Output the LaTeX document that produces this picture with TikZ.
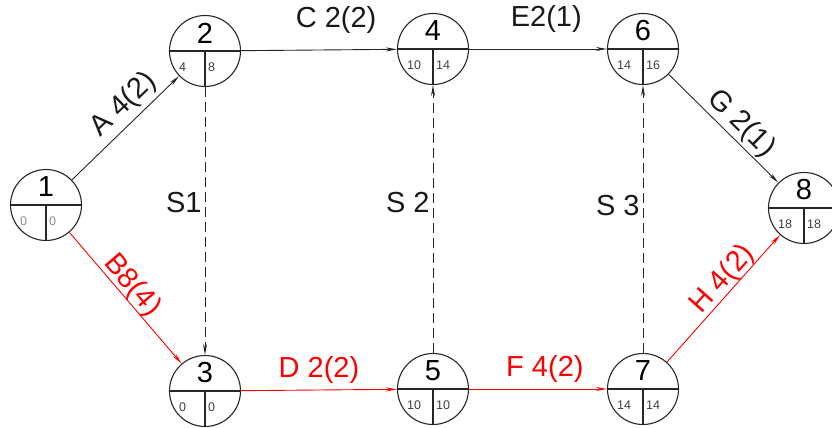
\documentclass[tikz,border=0pt]{standalone}
\usepackage{fontspec}
\setmainfont{Liberation Sans}
\usetikzlibrary{arrows.meta}
\begin{document}
\begin{tikzpicture}[x=1pt,y=1pt,
  ev/.style={circle, draw=black!85, line width=1.1pt, minimum size=71pt, inner sep=0pt},
  num/.style={font=\fontsize{29}{29}\selectfont, inner sep=0pt},
  sm/.style={font=\fontsize{12.5}{12.5}\selectfont, anchor=west, inner sep=0pt, text=black!75},
  act/.style={line width=0.9pt, draw=black!85, -{Stealth[length=11pt,width=4pt]}},
  crit/.style={act, draw=red},
  dum/.style={act, dash pattern=on 10pt off 5pt},
  lab/.style={font=\fontsize{29}{29}\selectfont, inner sep=2pt, text=black!90},
  rlab/.style={lab, text=red}]
\useasboundingbox (0,0) rectangle (832,428);
\newcommand\evnode[6][black!75]{%
  \node[ev] (#2) at (#3) {};
  \draw[line width=1.1pt, black!85] (#2.west) -- (#2.east) (#2.center) -- (#2.south);
  \node[num] (#2n) at ([yshift=18pt]#2.center) {#4};
  \node[sm, text=#1] (#2a) at ([xshift=-26pt,yshift=-16pt]#2.center) {#5};
  \node[sm, text=#1] (#2b) at ([xshift=3pt,yshift=-16pt]#2.center) {#6};
}
\evnode[black!45]{n1}{46,223}{1}{0}{0}
\evnode{n2}{205,377}{2}{4}{8}
\evnode{n3}{205,37}{3}{0}{0}
\evnode{n4}{433,379}{4}{10}{14}
\evnode{n5}{433,39}{5}{10}{10}
\evnode{n6}{643,379}{6}{14}{16}
\evnode{n7}{643,39}{7}{14}{14}
\evnode{n8}{804,220}{8}{18}{18}

\draw[act] (n1) -- node[lab, sloped, above=2pt, pos=0.6] (lA) {A 4(2)} (n2);
\draw[crit] (n1) -- node[rlab, sloped, above=-3pt, pos=0.47] (lB) {B8(4)} (n3);
\draw[act] (n2) -- node[lab, above=14pt, pos=0.61] (lC) {C 2(2)} (n4);
\draw[act] (n4) -- node[lab, above=14pt, pos=0.56] (lE) {E2(1)} (n6);
\draw[act] (n6) -- node[lab, sloped, above=0pt, pos=0.56] (lG) {G 2(1)} (n8);
\draw[crit] (n3) -- node[rlab, above=4pt, pos=0.5] (lD) {D 2(2)} (n5);
\draw[crit] (n5) -- node[rlab, above=4pt, pos=0.55] (lF) {F 4(2)} (n7);
\draw[crit] (n7) -- node[rlab, sloped, above=-3pt, pos=0.58] (lH) {H 4(2)} (n8);
\draw[dum] (n2) -- node[lab, left=1pt, pos=0.43] (lS1) {S1} (n3);
\draw[dum] (n5) -- node[lab, left=1pt, pos=0.56] (lS2) {S 2} (n4);
\draw[dum] (n7) -- node[lab, left=1pt, pos=0.55] (lS3) {S 3} (n6);
\end{tikzpicture}
\end{document}
